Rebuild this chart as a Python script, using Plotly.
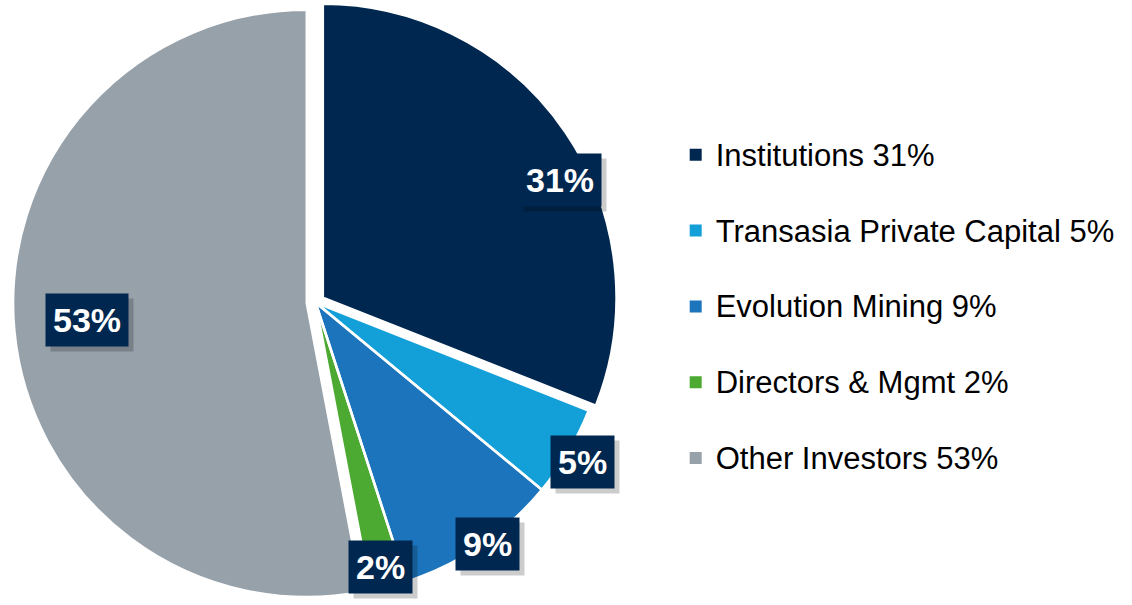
import math
import plotly.graph_objects as go

labels = ["Institutions", "Transasia Private Capital", "Evolution Mining", "Directors & Mgmt", "Other Investors"]
values = [31, 5, 9, 2, 53]
colors = ["#00274F", "#13A0D9", "#1C75BC", "#4CAA32", "#97A1AA"]
pulls = [0.03, 0, 0, 0, 0.03]

# label placement styles (radial factor, angle tweak in degrees)
label_rf = [0.94, 1.066, 1.015, 0.93, 0.77]
label_dt = [7.8, 0.0, -1.7, 0.0, 1.0]
label_dx = -3  # small horizontal nudge in px

W, H = 1132, 605
dom_x = [0.0115, 0.546]
dom_y = [0.0, 1.0]

legend_names = [f"<span style='font-size:31px'>{l} {v}%</span><br> " for l, v in zip(labels, values)]

fig = go.Figure()
# filled slices (drive the legend)
fig.add_trace(go.Pie(
    labels=legend_names,
    values=values,
    sort=False,
    direction="clockwise",
    rotation=0,
    pull=pulls,
    marker=dict(colors=colors, line=dict(width=0)),
    textinfo="none",
    hoverinfo="percent",
    domain=dict(x=dom_x, y=dom_y),
))
# white slice separators
fig.add_trace(go.Pie(
    labels=legend_names,
    values=values,
    sort=False,
    direction="clockwise",
    rotation=0,
    pull=pulls,
    marker=dict(colors=["rgba(0,0,0,0)"] * len(values), line=dict(color="white", width=2.5)),
    textinfo="none",
    hoverinfo="skip",
    showlegend=False,
    domain=dict(x=dom_x, y=dom_y),
))

# pie geometry (pixels)
cx = (dom_x[0] + dom_x[1]) / 2 * W
cy = (1 - (dom_y[0] + dom_y[1]) / 2) * H
rmax = min((dom_x[1] - dom_x[0]) * W, (dom_y[1] - dom_y[0]) * H) / 2
R = rmax / (1 + max(pulls))

total = sum(values)
cum = 0
for i, v in enumerate(values):
    mid = (cum + v / 2) / total * 360 + label_dt[i]
    cum += v
    th = math.radians(mid)
    px = cx + label_rf[i] * R * math.sin(th) + label_dx
    py = cy - label_rf[i] * R * math.cos(th)
    xp, yp = px / W, 1 - py / H
    # shadow
    fig.add_annotation(x=xp, y=yp, xref="paper", yref="paper", text=f"<b>{v}%</b>",
                       xanchor="center", yanchor="middle",
                       showarrow=False, font=dict(family="Arial", size=34, color="rgba(0,0,0,0)"),
                       bgcolor="rgba(0,0,0,0.2)", borderpad=7, xshift=5, yshift=-5)
    fig.add_annotation(x=xp, y=yp, xref="paper", yref="paper", text=f"<b>{v}%</b>",
                       xanchor="center", yanchor="middle",
                       showarrow=False, font=dict(family="Arial", size=34, color="white"),
                       bgcolor="#00274F", borderpad=7)

fig.update_layout(
    width=W, height=H,
    margin=dict(l=0, r=0, t=0, b=0),
    paper_bgcolor="white",
    plot_bgcolor="white",
    showlegend=True,
    legend=dict(
        x=0.5969, y=0.785, xanchor="left", yanchor="top",
        font=dict(family="Arial", size=28, color="#000000"),
        valign="top",
    ),
)

fig.write_html("out.html", config={"displayModeBar": False},
               post_script="document.body.style.margin='0px';")
